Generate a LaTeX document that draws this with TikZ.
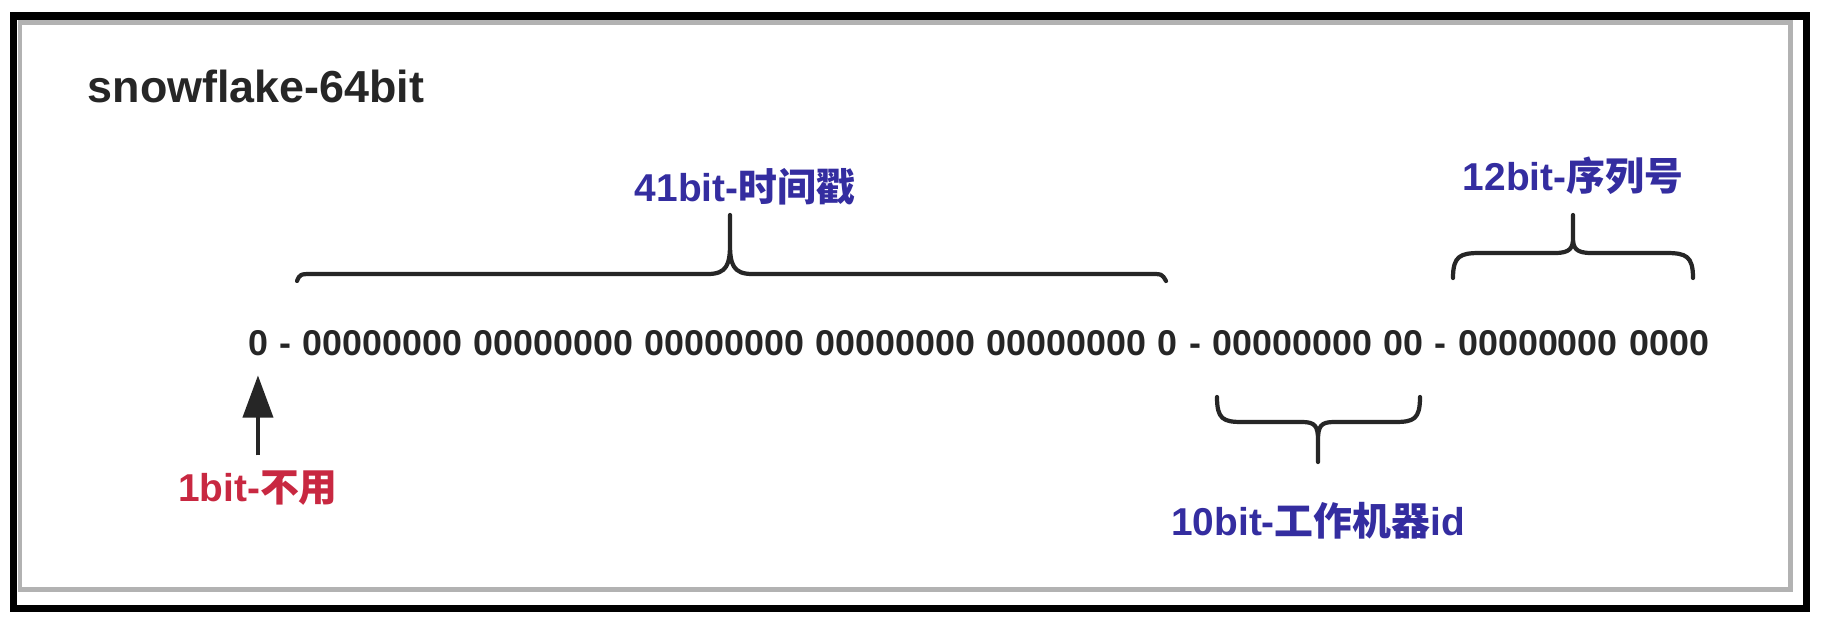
\documentclass[tikz,border=0pt]{standalone}
\usepackage{fontspec}
\setmainfont{Liberation Sans}
\newfontfamily\cjk{Noto Sans CJK SC}
\usetikzlibrary{calc, positioning, arrows.meta}
\definecolor{framegray}{RGB}{178,178,178}
\definecolor{textdark}{RGB}{38,38,38}
\definecolor{labelblue}{RGB}{52,45,160}
\definecolor{labelred}{RGB}{200,40,65}
\newcommand{\bitfont}{\fontsize{10.2}{12}\selectfont\bfseries\spaceskip=3.26pt\relax}
\newcommand{\tagfont}{\fontsize{11.05}{13}\selectfont\bfseries}
\tikzset{
	bits/.style={inner sep=0pt, outer sep=0pt, font=\bitfont, text=textdark},
	tag/.style={inner sep=0pt, outer sep=0pt, font=\tagfont},
	bitbrace/.style={draw=textdark, line width=1.2pt, line cap=round, line join=round},
	bitarrow/.style={draw=textdark, line width=1.2pt, -{Triangle[width=8.5pt,length=12pt]}, shorten <=0.15cm, shorten >=0.2cm}
}
\begin{document}
\begin{tikzpicture}
	\useasboundingbox (0,0) rectangle (18.24,6.20);
	\fill[white] (0,0) rectangle (18.24,6.20);
	
	%Marco
	\draw[line width=2pt] (0.135,6.04) rectangle (18.065,0.115);
	\draw[framegray, line width=1.4pt] (0.20,5.975) rectangle (17.905,0.305);
	
	%Titulo
	\node[anchor=base west, inner sep=0pt, font=\fontsize{12.76}{15}\selectfont\bfseries, text=textdark] (title) at (0.87,5.18) {snowflake-64bit};
	
	%Bits
	\node[bits, anchor=base west] (sign) at (2.48,2.65) {0};
	\node[bits, base right=0.115cm of sign] (dashA) {-};
	\node[bits, base right=0.115cm of dashA] (ts) {00000000 00000000 00000000 00000000 00000000 0};
	\node[bits, base right=0.115cm of ts] (dashB) {-};
	\node[bits, base right=0.115cm of dashB] (wk) {00000000 00};
	\node[bits, base right=0.115cm of wk] (dashC) {-};
	\node[bits, base right=0.115cm of dashC] (seq) {00000000 0000};
	
	%Llaves
	\draw[bitbrace] (2.97,3.39) .. controls (3.00,3.46) .. (3.14,3.46) -- (7.08,3.46) .. controls (7.27,3.46) and (7.30,3.56) .. (7.30,3.76) -- (7.30,4.05) -- (7.30,3.76) .. controls (7.30,3.56) and (7.33,3.46) .. (7.52,3.46) -- (11.50,3.46) .. controls (11.62,3.46) .. (11.66,3.39);
	\coordinate (tsTip) at (7.30,4.05);
	
	\draw[bitbrace] (14.53,3.42) .. controls (14.53,3.64) and (14.60,3.67) .. (14.80,3.67) -- (15.55,3.67) .. controls (15.70,3.67) and (15.73,3.72) .. (15.73,3.82) -- (15.73,4.05) -- (15.73,3.82) .. controls (15.73,3.72) and (15.76,3.67) .. (15.91,3.67) -- (16.66,3.67) .. controls (16.86,3.67) and (16.93,3.64) .. (16.93,3.42);
	\coordinate (seqTip) at (15.73,4.05);
	
	\draw[bitbrace] (12.17,2.23) .. controls (12.17,2.01) and (12.23,1.98) .. (12.42,1.98) -- (13.02,1.98) .. controls (13.15,1.98) and (13.18,1.94) .. (13.18,1.80) -- (13.18,1.58) -- (13.18,1.80) .. controls (13.18,1.94) and (13.21,1.98) .. (13.34,1.98) -- (13.95,1.98) .. controls (14.14,1.98) and (14.20,2.01) .. (14.20,2.23);
	\coordinate (wkTip) at (13.18,1.58);
	
	%Etiquetas
	\node[tag, text=labelblue, above=0.1cm of tsTip, xshift=0.15cm] (tsLabel) {41bit-{\cjk 时间戳}};
	\node[tag, text=labelblue, above=0.2cm of seqTip] (seqLabel) {12bit-{\cjk 序列号}};
	\node[tag, text=labelblue, below=0.4cm of wkTip] (wkLabel) {10bit-{\cjk 工作机器}id};
	\node[tag, text=labelred, below=1.15cm of sign] (unusedLabel) {1bit-{\cjk 不用}};
	\draw[bitarrow] (unusedLabel) -- (sign);
\end{tikzpicture}
\end{document}
